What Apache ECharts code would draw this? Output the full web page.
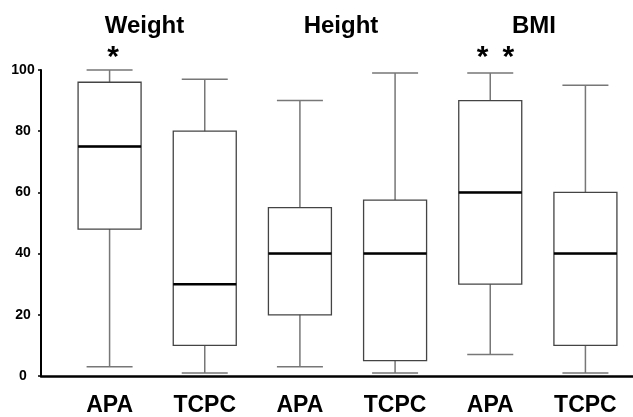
<!DOCTYPE html>
<html>
<head>
<meta charset="utf-8">
<script src="https://cdn.jsdelivr.net/npm/echarts@6/dist/echarts.min.js"></script>
<style>
html,body{margin:0;padding:0;background:#fff;}
#chart{width:633px;height:417px;}
</style>
</head>
<body>
<div id="chart"></div>
<script>
// ---- data ----
const categories = ['APA', 'TCPC', 'APA', 'TCPC', 'APA', 'TCPC'];
const groupTitles = ['Weight', 'Height', 'BMI'];
const whiskerMin = [3, 1, 3, 1, 7, 1];
const q1 = [48, 10, 20, 5, 30, 10];
const median = [75, 30, 40, 40, 60, 40];
const q3 = [96, 80, 55, 57.5, 90, 60];
const whiskerMax = [100, 97, 90, 99, 99, 95];
const yTicks = [0, 20, 40, 60, 80, 100];
const significance = ['*', '', '', '', '**', ''];

const FONT = "'Liberation Sans', Arial, Helvetica, sans-serif";

// data for the three layers (whiskers, boxes, medians)
const whiskerData = categories.map((c, i) => [whiskerMin[i], whiskerMin[i], whiskerMin[i], whiskerMin[i], whiskerMax[i]]);
const boxData = categories.map((c, i) => [q1[i], q1[i], median[i], q3[i], q3[i]]);
const medianData = categories.map((c, i) => [median[i], median[i], median[i], median[i], median[i]]);

const titlePos = [144.5, 341, 534];
const titles = groupTitles.map((t, i) => ({
  text: t, left: titlePos[i], top: 14, textAlign: 'center', padding: 0,
  textStyle: {fontFamily: FONT, fontWeight: 'bold', fontSize: 24, color: '#000'}
}));
const starPos = [[113], [], [], [], [482.7, 508.3], []];
significance.forEach((s, i) => {
  for (let k = 0; k < s.length; k++) {
    titles.push({
      text: s[k], left: starPos[i][k], top: 43, textAlign: 'center', padding: 0,
      textStyle: {fontFamily: FONT, fontWeight: 'bold', fontSize: 30, color: '#000'}
    });
  }
});

const chart = echarts.init(document.getElementById('chart'), null, {renderer: 'canvas'});
const hiddenCat = () => ({
  type: 'category', gridIndex: 1, data: categories, boundaryGap: true,
  axisLine: {show: false}, axisTick: {show: false}, axisLabel: {show: false}, splitLine: {show: false}
});
chart.setOption({
  animation: false,
  backgroundColor: '#fff',
  title: titles,
  grid: [
    {left: 41, right: 0, top: 70, bottom: 41},
    {left: 62, right: 0, top: 70, bottom: 41}
  ],
  xAxis: [
    {type: 'value', gridIndex: 0, min: 0, max: 1,
     axisLine: {show: true, onZero: false, lineStyle: {color: '#000', width: 2.5}},
     axisTick: {show: false}, axisLabel: {show: false}, splitLine: {show: false}},
    {type: 'category', gridIndex: 1, data: categories, boundaryGap: true,
     axisLine: {show: false}, axisTick: {show: false}, splitLine: {show: false},
     axisLabel: {interval: 0, margin: 18, fontFamily: FONT, fontWeight: 'bold', fontSize: 23, color: '#000'}},
    hiddenCat(), hiddenCat()
  ],
  yAxis: [
    {type: 'value', gridIndex: 0, min: 0, max: 100, interval: 20,
     axisLine: {show: true, lineStyle: {color: '#000', width: 2}},
     axisTick: {show: true, length: 3, lineStyle: {color: '#000', width: 1.5}},
     axisLabel: {margin: 18, align: 'center', fontFamily: FONT, fontWeight: 'bold', fontSize: 14, color: '#000',
       formatter: v => yTicks.includes(v) ? String(v) : ''},
     splitLine: {show: false}},
    {type: 'value', gridIndex: 1, min: 0, max: 100, interval: 20,
     axisLine: {show: false}, axisTick: {show: false}, axisLabel: {show: false}, splitLine: {show: false}}
  ],
  series: [
    {type: 'boxplot', name: 'whisker', xAxisIndex: 2, yAxisIndex: 1, data: whiskerData,
     boxWidth: [46, 46], z: 2, silent: true,
     itemStyle: {color: '#fff', borderColor: '#777', borderWidth: 1.5}},
    {type: 'boxplot', name: 'box', xAxisIndex: 1, yAxisIndex: 1, data: boxData,
     boxWidth: [63, 63], z: 3, silent: true,
     itemStyle: {color: '#fff', borderColor: '#444', borderWidth: 1.3}},
    {type: 'boxplot', name: 'median', xAxisIndex: 3, yAxisIndex: 1, data: medianData,
     boxWidth: [63, 63], z: 4, silent: true,
     itemStyle: {color: '#fff', borderColor: '#000', borderWidth: 2.5}}
  ]
});
</script>
</body>
</html>
